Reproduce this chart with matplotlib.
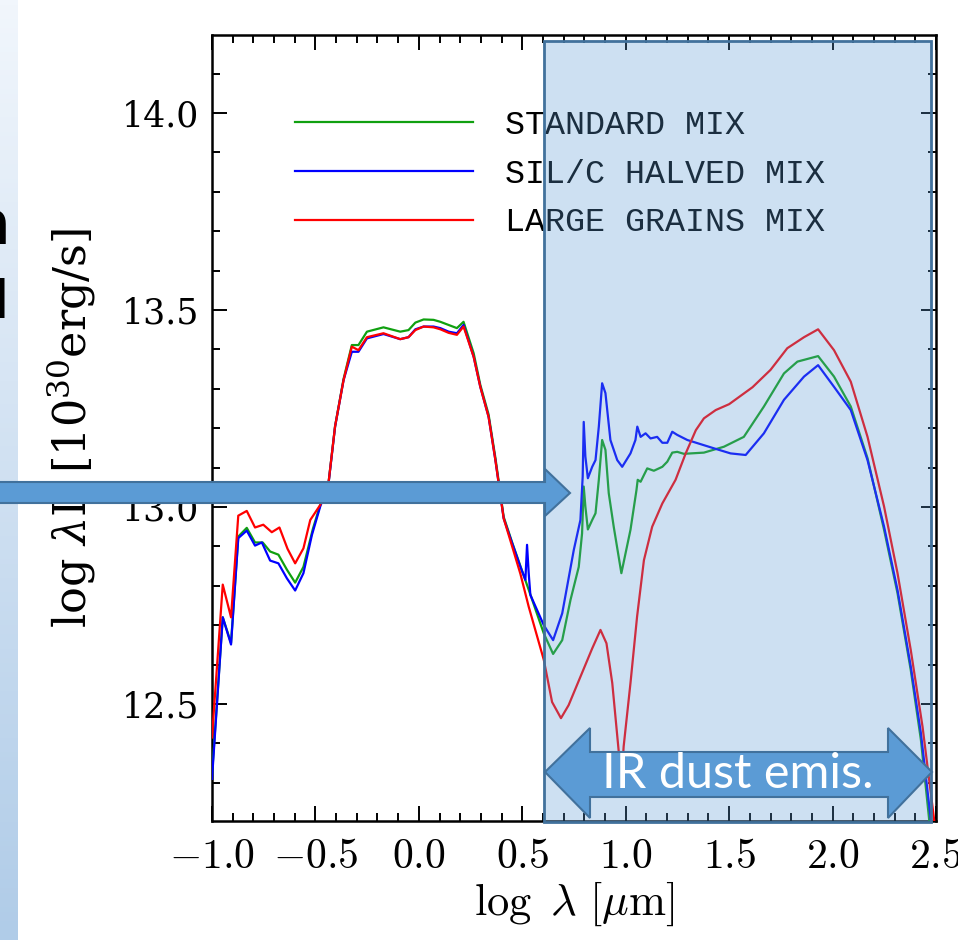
import matplotlib
matplotlib.use("Agg")
import matplotlib.pyplot as plt
import numpy as np
from matplotlib.patches import Rectangle, Polygon
from matplotlib.colors import LinearSegmentedColormap
from matplotlib.ticker import MultipleLocator, FuncFormatter

# curves: (log lambda [um], log lambda L)
standard_mix = [(-1.0, 12.32), (-0.948, 12.72), (-0.908, 12.655), (-0.873, 12.925), (-0.832, 12.947),
                (-0.792, 12.91), (-0.755, 12.91), (-0.719, 12.887), (-0.679, 12.879), (-0.638, 12.841),
                (-0.598, 12.808), (-0.558, 12.848), (-0.512, 12.945), (-0.477, 13.005), (-0.437, 13.06),
                (-0.405, 13.205), (-0.364, 13.325), (-0.324, 13.411), (-0.292, 13.411), (-0.251, 13.445),
                (-0.171, 13.456), (-0.09, 13.445), (-0.05, 13.449), (-0.017, 13.468), (0.023, 13.476),
                (0.071, 13.475), (0.104, 13.47), (0.144, 13.462), (0.184, 13.454), (0.216, 13.47),
                (0.265, 13.39), (0.297, 13.31), (0.337, 13.235), (0.37, 13.125), (0.41, 12.975),
                (0.451, 12.91), (0.491, 12.85), (0.531, 12.79), (0.604, 12.679), (0.649, 12.627),
                (0.693, 12.662), (0.733, 12.764), (0.773, 12.848), (0.789, 12.933), (0.797, 13.052),
                (0.805, 13.001), (0.817, 12.943), (0.838, 12.967), (0.854, 12.984), (0.87, 13.069),
                (0.886, 13.17), (0.902, 13.145), (0.918, 13.035), (0.942, 12.95), (0.979, 12.832),
                (1.023, 12.942), (1.052, 13.043), (1.058, 13.069), (1.072, 13.064), (1.104, 13.098),
                (1.136, 13.092), (1.177, 13.102), (1.201, 13.115), (1.225, 13.138), (1.249, 13.14),
                (1.281, 13.135), (1.378, 13.138), (1.475, 13.153), (1.571, 13.178), (1.668, 13.255),
                (1.765, 13.339), (1.83, 13.369), (1.93, 13.383), (2.007, 13.331), (2.088, 13.255),
                (2.169, 13.124), (2.249, 12.942), (2.314, 12.781), (2.378, 12.586), (2.427, 12.409),
                (2.467, 12.206), (2.5, 12.1)]

sil_c_halved = [(-1.0, 12.31), (-0.948, 12.72), (-0.908, 12.651), (-0.873, 12.921), (-0.832, 12.94),
                (-0.792, 12.902), (-0.759, 12.91), (-0.719, 12.864), (-0.679, 12.857), (-0.638, 12.819),
                (-0.598, 12.788), (-0.558, 12.832), (-0.517, 12.929), (-0.477, 13.001), (-0.437, 13.058),
                (-0.405, 13.204), (-0.364, 13.322), (-0.324, 13.394), (-0.292, 13.394), (-0.251, 13.428),
                (-0.171, 13.439), (-0.09, 13.426), (-0.05, 13.431), (-0.017, 13.451), (0.023, 13.458),
                (0.071, 13.458), (0.104, 13.454), (0.144, 13.445), (0.184, 13.441), (0.216, 13.462),
                (0.265, 13.381), (0.297, 13.305), (0.337, 13.229), (0.37, 13.119), (0.41, 12.971),
                (0.451, 12.908), (0.491, 12.848), (0.515, 12.815), (0.523, 12.904), (0.531, 12.832),
                (0.539, 12.777), (0.604, 12.7), (0.649, 12.662), (0.693, 12.73), (0.749, 12.891),
                (0.781, 12.967), (0.792, 13.077), (0.797, 13.216), (0.805, 13.128), (0.817, 13.073),
                (0.838, 13.102), (0.854, 13.119), (0.87, 13.204), (0.886, 13.314), (0.902, 13.289),
                (0.926, 13.17), (0.959, 13.119), (0.983, 13.102), (1.023, 13.136), (1.047, 13.17),
                (1.056, 13.204), (1.072, 13.178), (1.096, 13.187), (1.12, 13.174), (1.152, 13.178),
                (1.177, 13.163), (1.201, 13.163), (1.225, 13.191), (1.249, 13.183), (1.298, 13.17),
                (1.426, 13.149), (1.507, 13.136), (1.58, 13.132), (1.668, 13.187), (1.765, 13.272),
                (1.862, 13.331), (1.93, 13.36), (2.007, 13.305), (2.088, 13.246), (2.169, 13.119),
                (2.249, 12.95), (2.314, 12.789), (2.378, 12.595), (2.427, 12.426), (2.475, 12.206),
                (2.5, 12.12)]

large_grains = [(-1.0, 12.415), (-0.948, 12.803), (-0.908, 12.72), (-0.873, 12.978), (-0.832, 12.99),
                (-0.792, 12.948), (-0.752, 12.955), (-0.711, 12.936), (-0.674, 12.948), (-0.635, 12.894),
                (-0.598, 12.857), (-0.558, 12.895), (-0.525, 12.967), (-0.477, 13.005), (-0.437, 13.06),
                (-0.405, 13.205), (-0.364, 13.322), (-0.324, 13.407), (-0.292, 13.398), (-0.251, 13.431),
                (-0.171, 13.441), (-0.09, 13.426), (-0.05, 13.431), (-0.017, 13.449), (0.023, 13.458),
                (0.071, 13.456), (0.104, 13.451), (0.144, 13.442), (0.184, 13.437), (0.216, 13.458),
                (0.265, 13.381), (0.297, 13.305), (0.337, 13.229), (0.37, 13.119), (0.41, 12.971),
                (0.451, 12.9), (0.491, 12.83), (0.531, 12.747), (0.604, 12.612), (0.644, 12.505),
                (0.687, 12.464), (0.724, 12.497), (0.781, 12.569), (0.838, 12.641), (0.878, 12.688),
                (0.907, 12.654), (0.935, 12.553), (0.967, 12.375), (0.978, 12.29), (0.99, 12.392),
                (1.023, 12.553), (1.055, 12.722), (1.088, 12.865), (1.128, 12.95), (1.177, 13.009),
                (1.241, 13.069), (1.29, 13.136), (1.339, 13.195), (1.378, 13.225), (1.435, 13.246),
                (1.5, 13.261), (1.613, 13.304), (1.7, 13.348), (1.781, 13.403), (1.862, 13.431),
                (1.93, 13.451), (2.007, 13.398), (2.088, 13.318), (2.169, 13.178), (2.249, 13.001),
                (2.314, 12.832), (2.378, 12.637), (2.435, 12.442), (2.491, 12.206), (2.5, 12.15)]

labels = ["STANDARD MIX", "SIL/C HALVED MIX", "LARGE GRAINS MIX"]
colors = ["#10a010", "#0000ff", "#ff0000"]

W, H = 958, 940
def fx(px):
    return px / W
def fy(py):
    return 1 - py / H

plt.rcParams['mathtext.fontset'] = 'cm'

fig = plt.figure(figsize=(W / 100, H / 100), dpi=100)

# slide background strip on the left
strip = fig.add_axes([0, 0, fx(18), 1])
cmap = LinearSegmentedColormap.from_list("strip", ["#f1f6fc", "#b0cce8"])
strip.imshow(np.linspace(0, 1, 200).reshape(-1, 1), aspect='auto', cmap=cmap)
strip.axis('off')
fig.text(fx(10), fy(228), 'n', ha='right', va='center', fontsize=44, weight='bold', color='black')
fig.text(fx(9), fy(303), 'I', ha='right', va='center', fontsize=40, weight='bold', color='black')

ax = fig.add_axes([fx(212), fy(821), fx(936) - fx(212), fy(35) - fy(821)])
for data, lab, c in zip([standard_mix, sil_c_halved, large_grains], labels, colors):
    xs = [p[0] for p in data]
    ys = [p[1] for p in data]
    ax.plot(xs, ys, color=c, lw=1.6, label=lab, zorder=3)

ax.set_xlim(-1.0, 2.5)
ax.set_ylim(12.203, 14.198)
ax.xaxis.set_major_locator(MultipleLocator(0.5))
ax.xaxis.set_minor_locator(MultipleLocator(0.1))
ax.yaxis.set_major_locator(MultipleLocator(0.5))
ax.yaxis.set_minor_locator(MultipleLocator(0.1))
ax.xaxis.set_major_formatter(FuncFormatter(lambda v, p: r'$%.1f$' % v))
ax.yaxis.set_major_formatter(FuncFormatter(lambda v, p: '%.1f' % v))
ax.tick_params(which='both', direction='in', top=True, right=True, width=1.4, color='black')
ax.tick_params(which='major', length=11)
ax.tick_params(which='minor', length=5.5)
ax.tick_params(axis='x', labelsize=30, pad=10)
ax.tick_params(axis='y', labelsize=25, pad=9)
for lab in ax.get_yticklabels():
    lab.set_family('DejaVu Serif')
for s in ax.spines.values():
    s.set_linewidth(1.8)

ax.set_xlabel(r'$\log\ \lambda\ [\mu\mathrm{m}]$', fontsize=32, labelpad=2)
ax.set_ylabel(r'log $\lambda$L [10$^{30}$erg/s]', fontsize=32, family='DejaVu Serif',
              math_fontfamily='dejavuserif')
ax.yaxis.set_label_coords((98 - 212) / 724, 0.5)

ax.legend(loc='upper left', bbox_to_anchor=(fx(295), fy(110)), bbox_transform=fig.transFigure,
          frameon=False, prop={'family': 'Liberation Mono', 'size': 24},
          handlelength=5.35, handletextpad=0.95, labelspacing=0.53, borderpad=0, borderaxespad=0)

# translucent highlight box over the IR part
fig.add_artist(Rectangle((fx(544), fy(822)), fx(931) - fx(544), fy(41) - fy(822),
                         transform=fig.transFigure, facecolor=(0.357, 0.608, 0.835, 0.3),
                         edgecolor='#41719c', lw=2, zorder=5))

def arrow(points):
    return Polygon([(fx(a), fy(b)) for a, b in points], closed=True, transform=fig.transFigure,
                   facecolor='#5b9bd5', edgecolor='#41719c', lw=1.5, zorder=6)

fig.add_artist(arrow([(-5, 482), (545, 482), (545, 469), (570, 493), (545, 516), (545, 503), (-5, 503)]))
fig.add_artist(arrow([(545, 772), (590, 728), (590, 752), (888, 752), (888, 728), (932, 772),
                      (888, 818), (888, 797), (590, 797), (590, 818)]))
fig.text(fx(738), fy(774), 'IR dust emis.', ha='center', va='center', color='white',
         fontsize=35, family='Lato', zorder=7)

fig.savefig('out.png', dpi=100)
